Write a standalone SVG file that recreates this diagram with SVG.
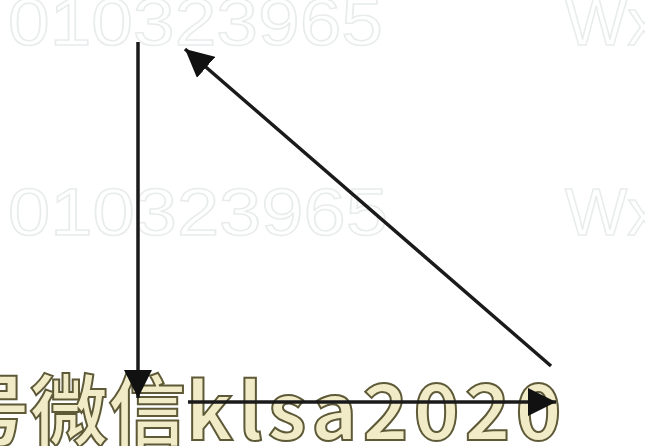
<svg xmlns="http://www.w3.org/2000/svg" width="645" height="446" viewBox="0 0 645 446">
<defs>
<marker id="ah" markerUnits="userSpaceOnUse" markerWidth="30" markerHeight="28" refX="28" refY="14" orient="auto">
<path d="M0,0 L28,14 L0,28 Z" fill="#111"/>
</marker>
<style>
.wm{font-family:"Liberation Sans",sans-serif;font-size:66px;fill:none;stroke:#e9ecec;stroke-width:1.5}
.line{stroke:#1a1a1a;stroke-width:3.5;fill:none}
.yt{font-family:"Noto Sans CJK SC","Noto Sans",sans-serif;font-weight:bold;font-size:78px;fill:#f2ebc8;stroke:#5e5a38;stroke-width:2}
</style>
</defs>
<rect width="645" height="446" fill="#ffffff"/>
<g id="watermarks">
<text class="wm" x="8" y="45" textLength="375" lengthAdjust="spacingAndGlyphs">010323965</text>
<text class="wm" x="8" y="235" textLength="380" lengthAdjust="spacingAndGlyphs">010323965</text>
<text class="wm" x="565" y="45">Wx</text>
<text class="wm" x="565" y="235">Wx</text>
</g>
<g id="caption">
<text class="yt" x="-48" y="440">号微信<tspan letter-spacing="5">klsa2020</tspan></text>
</g>
<g id="connectors">
<line class="line" x1="138" y1="42" x2="138" y2="398" marker-end="url(#ah)"/>
<line class="line" x1="188" y1="402" x2="556" y2="402" marker-end="url(#ah)"/>
<line class="line" x1="551" y1="366" x2="185" y2="49" marker-end="url(#ah)"/>
</g>
</svg>
